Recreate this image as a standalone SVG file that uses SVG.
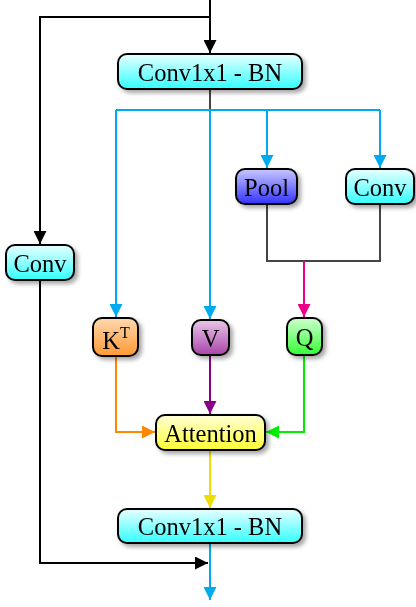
<svg xmlns="http://www.w3.org/2000/svg" width="416" height="607" viewBox="0 0 416 607">
<style>
.box{stroke:#000;stroke-width:2}
.t{font-family:"Liberation Serif","Times New Roman",serif;font-size:24.5px;text-anchor:middle;fill:#000}
.ln{fill:none;stroke-width:2}
</style>
<defs>
<filter id="sh" x="-20%" y="-20%" width="150%" height="160%"><feDropShadow dx="3" dy="3" stdDeviation="2" flood-color="#000" flood-opacity="0.35"/></filter>
<linearGradient id="gc" x1="0" y1="0" x2="0" y2="1"><stop offset="0" stop-color="#e8ffff"/><stop offset="1" stop-color="#33ffff"/></linearGradient>
<linearGradient id="gp" x1="0" y1="0" x2="0" y2="1"><stop offset="0" stop-color="#c8c8ff"/><stop offset="1" stop-color="#3333ff"/></linearGradient>
<linearGradient id="go" x1="0" y1="0" x2="0" y2="1"><stop offset="0" stop-color="#ffd8b0"/><stop offset="1" stop-color="#ff9933"/></linearGradient>
<linearGradient id="gv" x1="0" y1="0" x2="0" y2="1"><stop offset="0" stop-color="#e8c8e8"/><stop offset="1" stop-color="#aa44aa"/></linearGradient>
<linearGradient id="gq" x1="0" y1="0" x2="0" y2="1"><stop offset="0" stop-color="#d0ffd0"/><stop offset="1" stop-color="#33ff33"/></linearGradient>
<linearGradient id="gy" x1="0" y1="0" x2="0" y2="1"><stop offset="0" stop-color="#ffffd8"/><stop offset="1" stop-color="#ffff33"/></linearGradient>
<marker id="ak" viewBox="0 0 10 10" refX="10" refY="5" markerWidth="6.5" markerHeight="6.5" orient="auto"><path d="M0,0 L10,5 L0,10 z" fill="#000"/></marker>
<marker id="ab" viewBox="0 0 10 10" refX="10" refY="5" markerWidth="6.5" markerHeight="6.5" orient="auto"><path d="M0,0 L10,5 L0,10 z" fill="#00aaee"/></marker>
<marker id="apk" viewBox="0 0 10 10" refX="10" refY="5" markerWidth="6.5" markerHeight="6.5" orient="auto"><path d="M0,0 L10,5 L0,10 z" fill="#ee0088"/></marker>
<marker id="ao" viewBox="0 0 10 10" refX="10" refY="5" markerWidth="6.5" markerHeight="6.5" orient="auto"><path d="M0,0 L10,5 L0,10 z" fill="#ff8800"/></marker>
<marker id="au" viewBox="0 0 10 10" refX="10" refY="5" markerWidth="6.5" markerHeight="6.5" orient="auto"><path d="M0,0 L10,5 L0,10 z" fill="#880088"/></marker>
<marker id="ag" viewBox="0 0 10 10" refX="10" refY="5" markerWidth="6.5" markerHeight="6.5" orient="auto"><path d="M0,0 L10,5 L0,10 z" fill="#00ee00"/></marker>
<marker id="ay" viewBox="0 0 10 10" refX="10" refY="5" markerWidth="6.5" markerHeight="6.5" orient="auto"><path d="M0,0 L10,5 L0,10 z" fill="#eedd00"/></marker>
</defs>
<g id="connectors">
<path class="ln" stroke="#000" d="M210,0 V53" marker-end="url(#ak)"/>
<path class="ln" stroke="#000" d="M210,17 H40 V244" marker-end="url(#ak)"/>
<path class="ln" stroke="#444" stroke-width="1" d="M210,89 V110"/>
<path class="ln" stroke="#00aaee" d="M116,110 H380"/>
<path class="ln" stroke="#00aaee" d="M116,110 V317" marker-end="url(#ab)"/>
<path class="ln" stroke="#00aaee" d="M210,110 V319" marker-end="url(#ab)"/>
<path class="ln" stroke="#00aaee" d="M267,110 V168" marker-end="url(#ab)"/>
<path class="ln" stroke="#00aaee" d="M380,110 V168" marker-end="url(#ab)"/>
<path class="ln" stroke="#444" stroke-width="1" d="M267,204 V261 H380 V204"/>
<path class="ln" stroke="#ee0088" d="M304,261 V317" marker-end="url(#apk)"/>
<path class="ln" stroke="#ff8800" d="M116,356 V432 H155" marker-end="url(#ao)"/>
<path class="ln" stroke="#880088" d="M210,355 V414" marker-end="url(#au)"/>
<path class="ln" stroke="#00ee00" d="M304,355 V432 H266" marker-end="url(#ag)"/>
<path class="ln" stroke="#eedd00" d="M210,450 V508" marker-end="url(#ay)"/>
<path class="ln" stroke="#00aaee" d="M210,543 V600" marker-end="url(#ab)"/>
<path class="ln" stroke="#000" d="M40,280 V563 H208" marker-end="url(#ak)"/>
</g>
<g id="conv1x1_top" filter="url(#sh)"><rect class="box" x="118" y="54" width="184" height="35" rx="9" fill="url(#gc)"/><text class="t" x="210" y="80.5">Conv1x1 - BN</text></g>
<g id="pool" filter="url(#sh)"><rect class="box" x="236" y="169" width="61" height="35" rx="9" fill="url(#gp)"/><text class="t" x="266.5" y="195.5">Pool</text></g>
<g id="conv_right" filter="url(#sh)"><rect class="box" x="346" y="169" width="68" height="35" rx="9" fill="url(#gc)"/><text class="t" x="380" y="195.5">Conv</text></g>
<g id="conv_left" filter="url(#sh)"><rect class="box" x="6" y="245" width="68" height="35" rx="9" fill="url(#gc)"/><text class="t" x="40" y="271.5">Conv</text></g>
<g id="kt" filter="url(#sh)"><rect class="box" x="93" y="318" width="45" height="38" rx="9" fill="url(#go)"/><text class="t" x="116" y="349">K<tspan font-size="16" dy="-11">T</tspan></text></g>
<g id="v" filter="url(#sh)"><rect class="box" x="192" y="320" width="37" height="35" rx="9" fill="url(#gv)"/><text class="t" x="210.5" y="346.5">V</text></g>
<g id="q" filter="url(#sh)"><rect class="box" x="287" y="318" width="35" height="37" rx="9" fill="url(#gq)"/><text class="t" x="304.5" y="345.5">Q</text></g>
<g id="attention" filter="url(#sh)"><rect class="box" x="156" y="415" width="109" height="35" rx="9" fill="url(#gy)"/><text class="t" x="210.5" y="441.5">Attention</text></g>
<g id="conv1x1_bottom" filter="url(#sh)"><rect class="box" x="118" y="509" width="184" height="34" rx="9" fill="url(#gc)"/><text class="t" x="210" y="535">Conv1x1 - BN</text></g>
</svg>
